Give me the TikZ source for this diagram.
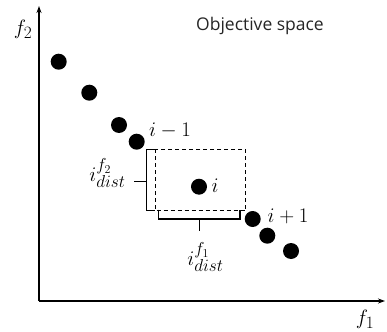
\documentclass[tikz,border=0pt]{standalone}
\usepackage{fontspec}
\newfontfamily\labelfont{Open Sans}
\DeclareMathSizes{21}{21}{17}{12}
\usetikzlibrary{arrows.meta}
\begin{document}
\begin{tikzpicture}[x=1pt,y=-1pt,
  dot/.style={circle,fill=black,inner sep=0pt,minimum size=16pt},
  axis/.style={line width=1.3pt,-{Stealth[length=7pt,width=5pt]}},
  brk/.style={line width=1.2pt},
  box/.style={line width=1pt,dash pattern=on 4pt off 3pt},
  lab/.style={inner sep=0pt,font=\fontsize{21}{23}\selectfont}]
\useasboundingbox (0,0) rectangle (387,331);
\coordinate (o) at (39,301);
\coordinate (ytop) at (39,6);
\coordinate (xend) at (385,301);
\draw[axis] (o) -- (ytop);
\draw[axis] (o) -- (xend);
\node[lab] (f2) at (23,29) {$f_2$};
\node[lab] (f1) at (365,319) {$f_1$};
\node[inner sep=0pt,font=\labelfont\fontsize{17.5}{19}\selectfont,text=black!85] (title) at (260,26) {Objective space};
\node[dot] (p1) at (58.7,61.7) {};
\node[dot] (p2) at (89.3,92.7) {};
\node[dot] (p3) at (119,125) {};
\node[dot] (p4) at (136.7,141.7) {};
\node[dot] (pi) at (199,186.7) {};
\node[dot] (p5) at (252.7,219) {};
\node[dot] (p6) at (267.3,235.7) {};
\node[dot] (p7) at (291,251) {};
\node[lab] (lim1) at (170,131) {$i-1$};
\node[lab] (li) at (215,186) {$i$};
\node[lab] (lip1) at (288,216) {$i+1$};
\draw[box] (155,149.3) rectangle (245.7,210.7);
% left bracket
\coordinate (lb1) at (155,149.3);
\coordinate (lb2) at (146.7,149.3);
\coordinate (lb3) at (146.7,210.7);
\coordinate (lb4) at (155,210.7);
\draw[brk] (lb1) -- (lb2) -- (lb3) -- (lb4);
\coordinate (lt1) at (146.7,181.5);
\coordinate (lt2) at (134,181.5);
\draw[brk] (lt1) -- (lt2);
% bottom bracket
\coordinate (bb1) at (158.3,209.5);
\coordinate (bb2) at (158.3,219);
\coordinate (bb3) at (240,219);
\coordinate (bb4) at (240,209.5);
\draw[brk] (bb1) -- (bb2) -- (bb3) -- (bb4);
\coordinate (bt1) at (199.3,219);
\coordinate (bt2) at (199.3,231);
\draw[brk] (bt1) -- (bt2);
\node[lab] (d1) at (205.5,257) {$i_{dist}^{f_1}$};
\node[lab] (d2) at (107.5,173) {$i_{dist}^{f_2}$};
\end{tikzpicture}
\end{document}
